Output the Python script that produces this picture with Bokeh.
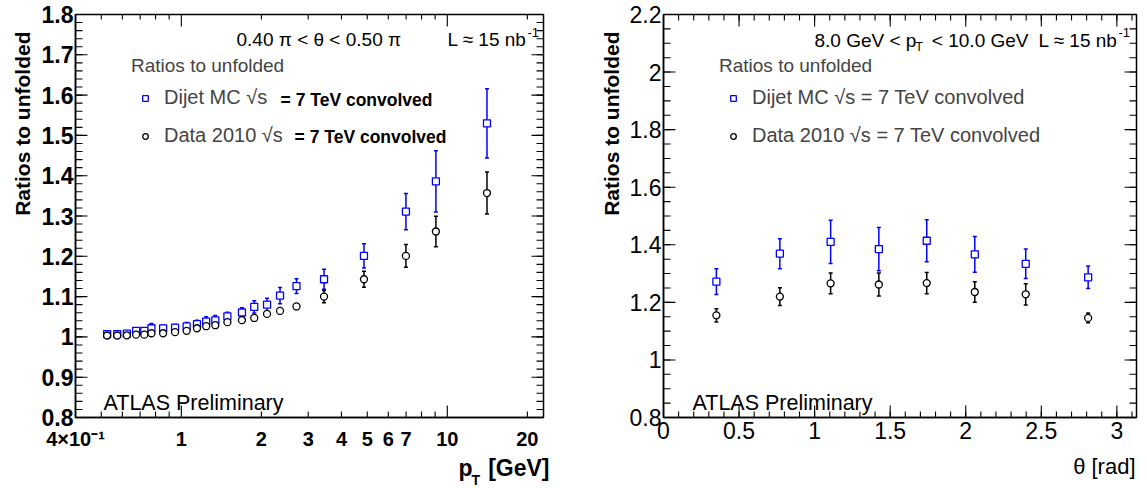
import numpy as np
from bokeh.plotting import figure
from bokeh.layouts import row, column
from bokeh.models import (Range1d, FixedTicker, CustomJSTickFormatter, Title,
                          Label, Legend, LegendItem, ColumnDataSource, Whisker, TeeHead)
from bokeh.embed import file_html
from bokeh.resources import INLINE

# ---------------- data: left panel, ratio vs pT ----------------
PT = [0.526, 0.574, 0.624, 0.676, 0.726, 0.772, 0.854, 0.947, 1.047, 1.145, 1.24, 1.342,
      1.49, 1.69, 1.88, 2.10, 2.35, 2.71, 3.44, 4.86, 6.99, 9.06, 14.1]
MC_PT = [1.007, 1.007, 1.008, 1.015, 1.015, 1.0215, 1.021, 1.023, 1.026, 1.0315, 1.038, 1.041,
         1.051, 1.0605, 1.0745, 1.080, 1.1025, 1.126, 1.143, 1.201, 1.311, 1.386, 1.530]
MC_PT_ERR = [0.004, 0.004, 0.005, 0.007, 0.007, 0.012, 0.008, 0.008, 0.010, 0.010, 0.012, 0.012,
             0.010, 0.012, 0.015, 0.016, 0.020, 0.018, 0.025, 0.030, 0.045, 0.076, 0.086]
DATA_PT = [1.0035, 1.0035, 1.004, 1.0055, 1.0055, 1.009, 1.009, 1.0117, 1.015, 1.0215, 1.0265, 1.029,
           1.0365, 1.0415, 1.047, 1.057, 1.0645, 1.0755, 1.100, 1.143, 1.201, 1.2615, 1.357]
DATA_PT_ERR = [0.003, 0.003, 0.003, 0.003, 0.003, 0.004, 0.004, 0.004, 0.004, 0.004, 0.005, 0.005,
               0.005, 0.005, 0.006, 0.006, 0.007, 0.006, 0.015, 0.020, 0.028, 0.038, 0.052]

# ---------------- data: right panel, ratio vs theta ----------------
THETA = [0.35, 0.77, 1.106, 1.425, 1.742, 2.06, 2.397, 2.81]
MC_TH = [1.272, 1.369, 1.410, 1.385, 1.414, 1.367, 1.334, 1.287]
MC_TH_ERR = [0.045, 0.052, 0.075, 0.075, 0.073, 0.062, 0.051, 0.039]
DATA_TH = [1.155, 1.220, 1.266, 1.262, 1.267, 1.236, 1.228, 1.146]
DATA_TH_ERR = [0.023, 0.031, 0.036, 0.040, 0.037, 0.036, 0.037, 0.017]

# ---------------- axes ----------------
PT_RANGE = (0.4, 23.0)
YL_RANGE = (0.8, 1.8)
TH_RANGE = (0.0, 3.13)
YR_RANGE = (0.8, 2.2)

PT_TICKS = [0.4, 1, 2, 3, 4, 5, 6, 7, 10, 20]
PT_TICK_LABELS = ["4×10⁻¹", "1", "2", "3", "4", "5", "6", "7", "10", "20"]
PT_MINOR = [0.5, 0.6, 0.7, 0.8, 0.9, 2, 3, 4, 5, 6, 7, 8, 9, 20]
PT_BIG = [1, 10]

YL_TICKS = [0.8, 0.9, 1.0, 1.1, 1.2, 1.3, 1.4, 1.5, 1.6, 1.7, 1.8]
YL_TICK_LABELS = ["0.8", "0.9", "1", "1.1", "1.2", "1.3", "1.4", "1.5", "1.6", "1.7", "1.8"]
TH_TICKS = [0, 0.5, 1, 1.5, 2, 2.5, 3]
TH_TICK_LABELS = ["0", "0.5", "1", "1.5", "2", "2.5", "3"]
YR_TICKS = [0.8, 1.0, 1.2, 1.4, 1.6, 1.8, 2.0, 2.2]
YR_TICK_LABELS = ["0.8", "1", "1.2", "1.4", "1.6", "1.8", "2", "2.2"]

FONT = "Liberation Sans"
BLUE = "#0000ff"
FH = 403          # frame height (px)
BASE_FIX = 6      # alphabetic-baseline correction (px)


def minor(lo, hi, step):
    return [round(v, 4) for v in np.arange(lo, hi + 1e-9, step)]


def at(rng, f, log):
    lo, hi = rng
    return lo * (hi / lo) ** f if log else lo + (hi - lo) * f


def fmt(vals, labels):
    return CustomJSTickFormatter(args=dict(tvals=vals, tlabels=labels), code="""
        for (let i = 0; i < tvals.length; i++) {
            if (Math.abs(tvals[i] - tick) < 1e-6) { return tlabels[i]; }
        }
        return '';""")


def style(ax, vals, labels, size, bold, standoff):
    ax.ticker = FixedTicker(ticks=vals)
    ax.formatter = fmt(vals, labels)
    ax.axis_line_color = "black"
    ax.axis_line_width = 1.5
    ax.major_tick_in = 0
    ax.major_tick_out = 0
    ax.minor_tick_in = 0
    ax.minor_tick_out = 0
    ax.major_label_text_font = FONT
    ax.major_label_text_font_size = size
    ax.major_label_text_font_style = "bold" if bold else "normal"
    ax.major_label_text_color = "black"
    ax.major_label_standoff = standoff


def make_fig(xtype, xr, yr, fw, bl, br):
    p = figure(x_axis_type=xtype, x_range=Range1d(*xr), y_range=Range1d(*yr),
               frame_width=fw, frame_height=FH,
               min_border_left=bl, min_border_right=br, min_border_top=14, min_border_bottom=34,
               output_backend="svg", toolbar_location=None,
               background_fill_color="white", border_fill_color="white",
               outline_line_color="black", outline_line_width=1.5)
    p.grid.visible = False
    return p


def xedge_ticks(p, xs, yr, length, top):
    """Inward tick marks on the bottom (top=False) or top edge of the frame."""
    f = length / FH
    y0 = yr[1] if top else yr[0]
    y1 = at(yr, 1 - f, False) if top else at(yr, f, False)
    src = ColumnDataSource(dict(x=list(xs), y0=[y0] * len(xs), y1=[y1] * len(xs)))
    p.segment(x0="x", x1="x", y0="y0", y1="y1", source=src, line_color="black", line_width=1.1)


def yedge_ticks(p, ys, xr, log, fw, length):
    """Inward tick marks on the left and right edges of the frame."""
    f = length / fw
    for x0, x1 in ((xr[0], at(xr, f, log)), (xr[1], at(xr, 1 - f, log))):
        src = ColumnDataSource(dict(y=list(ys), x0=[x0] * len(ys), x1=[x1] * len(ys)))
        p.segment(x0="x0", x1="x1", y0="y", y1="y", source=src, line_color="black", line_width=1.1)


def txt(p, fl, fb, X, Y, text, size, bold=False, align="left", baseline="alphabetic"):
    if baseline == "alphabetic":
        Y = Y - BASE_FIX
    p.add_layout(Label(x=X - fl, y=fb - Y, x_units="screen", y_units="screen", text=text,
                       text_font=FONT, text_font_size=f"{size}px",
                       text_font_style="bold" if bold else "normal",
                       text_align=align, text_baseline=baseline, text_color="black"))


def series(p, x, y, err, color, marker):
    src = ColumnDataSource(dict(x=x, y=y, lo=[a - b for a, b in zip(y, err)],
                                hi=[a + b for a, b in zip(y, err)]))
    p.add_layout(Whisker(base="x", lower="lo", upper="hi", source=src,
                         line_color=color, line_width=1.5,
                         upper_head=TeeHead(size=4, line_color=color, line_width=1.5),
                         lower_head=TeeHead(size=4, line_color=color, line_width=1.5)))
    return p.scatter("x", "y", source=src, marker=marker, size=7, line_color=color,
                     fill_color="white", line_width=1.3)


def legend(p, labels, renderers):
    leg = Legend(items=[LegendItem(label=l, renderers=[r]) for l, r in zip(labels, renderers)],
                 title="Ratios to unfolded", location=(56, 270), orientation="vertical",
                 padding=0, margin=0, spacing=15, glyph_width=28, glyph_height=14,
                 label_standoff=5, label_height=22, title_standoff=9,
                 border_line_color=None, background_fill_alpha=0,
                 label_text_font=FONT, label_text_font_size="20px",
                 title_text_font=FONT, title_text_font_size="19px", title_text_font_style="normal")
    p.add_layout(leg)


def ytitle(p, standoff):
    p.add_layout(Title(text="Ratios to unfolded", align="right", offset=17, standoff=standoff,
                       text_font=FONT, text_font_size="21px", text_font_style="bold",
                       text_color="black"), "left")


# ================= left panel =================
FL1, FB = 75, 417
FW1 = 468
p1 = make_fig("log", PT_RANGE, YL_RANGE, FW1, 75, 47)
style(p1.xaxis[0], PT_TICKS, PT_TICK_LABELS, "20px", True, 10)
style(p1.yaxis[0], YL_TICKS, YL_TICK_LABELS, "23px", True, 2)
ytitle(p1, 10)

xedge_ticks(p1, PT_MINOR + [PT_TICKS[0]], YL_RANGE, 6, top=False)
xedge_ticks(p1, PT_BIG, YL_RANGE, 12, top=False)
xedge_ticks(p1, PT_MINOR, YL_RANGE, 5, top=True)
xedge_ticks(p1, PT_BIG, YL_RANGE, 12, top=True)
yedge_ticks(p1, YL_TICKS, PT_RANGE, True, FW1, 12)
yedge_ticks(p1, minor(YL_RANGE[0], YL_RANGE[1], 0.02), PT_RANGE, True, FW1, 7)

r_mc1 = series(p1, PT, MC_PT, MC_PT_ERR, BLUE, "square")
r_d1 = series(p1, PT, DATA_PT, DATA_PT_ERR, "black", "circle")
legend(p1, ["Dijet MC √s", "Data 2010 √s"], [r_mc1, r_d1])
txt(p1, FL1, FB, 432, 99, "= 7 TeV convolved", 17.5, bold=True, align="right", baseline="middle")
txt(p1, FL1, FB, 446, 136, "= 7 TeV convolved", 17.5, bold=True, align="right", baseline="middle")

txt(p1, FL1, FB, 236, 45, "0.40 π < θ < 0.50 π", 19)
txt(p1, FL1, FB, 447, 45, "L ≈ 15 nb", 19)
txt(p1, FL1, FB, 527, 38, "-1", 13)
txt(p1, FL1, FB, 103, 408, "ATLAS Preliminary", 21.5)

# ================= right panel =================
FL2 = 663
FW2 = 473
p2 = make_fig("linear", TH_RANGE, YR_RANGE, FW2, 73, 4)
style(p2.xaxis[0], TH_TICKS, TH_TICK_LABELS, "23px", False, 4)
style(p2.yaxis[0], YR_TICKS, YR_TICK_LABELS, "23px", False, 2)
ytitle(p2, 7)

for top in (False, True):
    xedge_ticks(p2, TH_TICKS, YR_RANGE, 12, top)
    xedge_ticks(p2, minor(TH_RANGE[0], 3.1, 0.1), YR_RANGE, 6, top)
yedge_ticks(p2, YR_TICKS, TH_RANGE, False, FW2, 12)
yedge_ticks(p2, minor(YR_RANGE[0], YR_RANGE[1], 0.05), TH_RANGE, False, FW2, 7)

r_mc2 = series(p2, THETA, MC_TH, MC_TH_ERR, BLUE, "square")
r_d2 = series(p2, THETA, DATA_TH, DATA_TH_ERR, "black", "circle")
legend(p2, ["Dijet MC √s = 7 TeV convolved", "Data 2010 √s = 7 TeV convolved"], [r_mc2, r_d2])

txt(p2, FL2, FB, 814, 46, "8.0 GeV < p", 19)
txt(p2, FL2, FB, 915, 52, "T", 12)
txt(p2, FL2, FB, 1028, 46, "< 10.0 GeV", 19, align="right")
txt(p2, FL2, FB, 1038, 46, "L ≈ 15 nb", 19)
txt(p2, FL2, FB, 1118, 38, "-1", 13)
txt(p2, FL2, FB, 692, 408, "ATLAS Preliminary", 21.5)

# ================= strip holding the x-axis titles =================
STRIP_TOP, STRIP_H = 451, 37
strip = figure(width=1140, height=STRIP_H, x_range=Range1d(0, 1), y_range=Range1d(0, 1),
               min_border=0, x_axis_location=None, y_axis_location=None,
               output_backend="svg", toolbar_location=None, outline_line_color=None,
               background_fill_color="white", border_fill_color="white")
strip.grid.visible = False
SB = STRIP_TOP + STRIP_H
txt(strip, 0, SB, 472, 472, "p", 23, bold=True, align="right")
txt(strip, 0, SB, 471, 484, "T", 14, bold=True)
txt(strip, 0, SB, 549, 472, "[GeV]", 23, bold=True, align="right")
txt(strip, 0, SB, 1135, 471, "θ [rad]", 22, align="right")

layout = column(row(p1, p2), strip)
open("out.html", "w").write(file_html(layout, INLINE, "ATLAS ratios to unfolded"))
